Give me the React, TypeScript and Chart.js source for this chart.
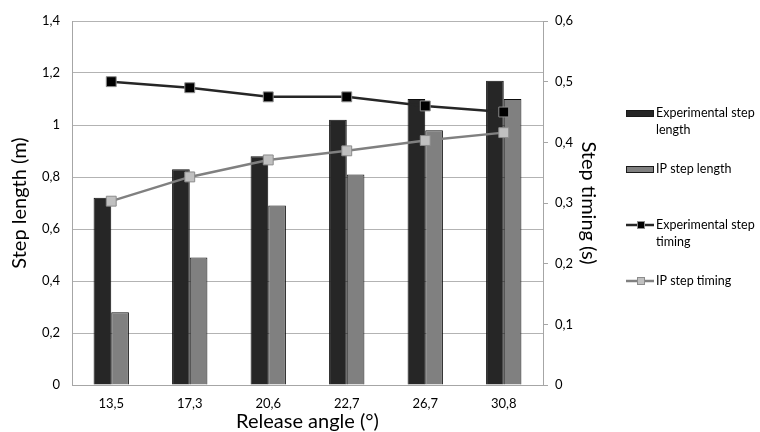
import React, { useEffect, useRef } from "react";
import { Chart, registerables } from "chart.js";

Chart.register(...registerables);

const categories = ["13,5", "17,3", "20,6", "22,7", "26,7", "30,8"];
const expLength = [0.72, 0.83, 0.88, 1.02, 1.1, 1.17];
const ipLength = [0.28, 0.49, 0.69, 0.81, 0.98, 1.1];
const expTiming = [0.5, 0.49, 0.475, 0.475, 0.46, 0.45];
const ipTiming = [0.303, 0.343, 0.371, 0.386, 0.403, 0.416];

const FONT = "Lato, 'Open Sans', sans-serif";

const fmt = (v: number) => String(Math.round(v * 10) / 10).replace(".", ",");

const sideLegend = {
  id: "sideLegend",
  afterDraw(chart: any, _args: any, opts: any) {
    const ctx = chart.ctx;
    const x0 = opts.x;
    const iconW = opts.iconW;
    const textX = x0 + iconW + 2;
    const maxW = opts.maxWidth;
    ctx.save();
    ctx.font = `12.5px ${FONT}`;
    ctx.textBaseline = "middle";
    ctx.fillStyle = "#000";
    chart.data.datasets.forEach((ds: any, i: number) => {
      const y = opts.y + i * opts.step;
      if (ds.type === "line") {
        ctx.strokeStyle = ds.borderColor;
        ctx.lineWidth = 2.5;
        ctx.beginPath();
        ctx.moveTo(x0, y);
        ctx.lineTo(x0 + iconW, y);
        ctx.stroke();
        const s = 7;
        const cx = x0 + iconW / 2 + 1;
        ctx.fillStyle = ds.pointBackgroundColor;
        ctx.fillRect(cx - s / 2, y - s / 2, s, s);
        ctx.strokeStyle = ds.pointBorderColor;
        ctx.lineWidth = 1;
        ctx.strokeRect(cx - s / 2, y - s / 2, s, s);
      } else {
        ctx.fillStyle = ds.backgroundColor;
        ctx.fillRect(x0, y - 3, iconW, 6);
        ctx.strokeStyle = "#1a1a1a";
        ctx.lineWidth = 1;
        ctx.strokeRect(x0 + 0.5, y - 2.5, iconW - 1, 6);
      }
      const words = String(ds.label).split(" ");
      const lines: string[] = [];
      let cur = "";
      words.forEach((w) => {
        const t = cur ? cur + " " + w : w;
        if (ctx.measureText(t).width > maxW && cur) {
          lines.push(cur);
          cur = w;
        } else cur = t;
      });
      if (cur) lines.push(cur);
      ctx.fillStyle = "#000";
      lines.forEach((ln, k) => {
        ctx.fillText(ln, textX, y + k * 17);
      });
    });
    ctx.restore();
  },
};

export default function App() {
  const ref = useRef<HTMLCanvasElement>(null);
  useEffect(() => {
    if (!ref.current) return;
    const chart = new Chart(ref.current, {
      type: "bar",
      data: {
        labels: categories,
        datasets: [
          {
            type: "bar",
            label: "Experimental step length",
            data: expLength,
            backgroundColor: "#262626",
            borderColor: "#0d0d0d",
            borderWidth: 1,
            yAxisID: "y",
            order: 2,
          },
          {
            type: "bar",
            label: "IP step length",
            data: ipLength,
            backgroundColor: "#808080",
            borderColor: "#0d0d0d",
            borderWidth: 1,
            yAxisID: "y",
            order: 2,
          },
          {
            type: "line",
            label: "Experimental step timing",
            data: expTiming,
            borderColor: "#262626",
            borderWidth: 2.5,
            pointStyle: "rect",
            pointRadius: 7,
            pointBackgroundColor: "#000000",
            pointBorderColor: "#8c8c8c",
            pointBorderWidth: 1,
            yAxisID: "y1",
            order: 1,
          } as any,
          {
            type: "line",
            label: "IP step timing",
            data: ipTiming,
            borderColor: "#808080",
            borderWidth: 2.5,
            pointStyle: "rect",
            pointRadius: 7,
            pointBackgroundColor: "#c0c0c0",
            pointBorderColor: "#8c8c8c",
            pointBorderWidth: 1,
            yAxisID: "y1",
            order: 0,
          } as any,
        ],
      },
      options: {
        animation: false,
        responsive: false,
        maintainAspectRatio: false,
        layout: { padding: { top: 21, right: 156, left: 0, bottom: 0 } },
        datasets: {
          bar: { categoryPercentage: 0.45, barPercentage: 1.0 },
        },
        plugins: {
          legend: { display: false },
          tooltip: { enabled: false },
          sideLegend: { x: 626, y: 113, step: 56, iconW: 28, maxWidth: 104 },
        } as any,
        scales: {
          x: {
            grid: { display: false, drawTicks: false },
            border: { display: true, color: "#a6a6a6", width: 1 },
            ticks: { color: "#000", font: { family: FONT, size: 13 }, padding: 11 },
            title: {
              display: true,
              text: "Release angle (°)",
              color: "#000",
              font: { family: FONT, size: 20, lineHeight: 1 },
              padding: { top: 0, bottom: 0 },
            },
            afterFit: (s: any) => {
              s.height = 47;
            },
          },
          y: {
            position: "left",
            min: 0,
            max: 1.4,
            ticks: {
              stepSize: 0.2,
              color: "#000",
              font: { family: FONT, size: 13 },
              padding: 12,
              callback: (v: any) => fmt(Number(v)),
            },
            grid: { color: "#b3b3b3", lineWidth: 1, drawTicks: false },
            border: { display: true, color: "#a6a6a6" },
            title: {
              display: true,
              text: "Step length (m)",
              color: "#000",
              font: { family: FONT, size: 20 },
              padding: { top: 8, bottom: 4 },
            },
            afterFit: (s: any) => {
              s.width = 72;
            },
          },
          y1: {
            position: "right",
            min: 0,
            max: 0.6,
            ticks: {
              stepSize: 0.1,
              color: "#000",
              font: { family: FONT, size: 13 },
              padding: 7,
              callback: (v: any) => fmt(Number(v)),
            },
            grid: { drawOnChartArea: false, color: "#a6a6a6", tickLength: 5 },
            border: { display: true, color: "#a6a6a6" },
            title: {
              display: true,
              text: "Step timing (s)",
              color: "#000",
              font: { family: FONT, size: 20 },
              padding: { top: 4, bottom: 4 },
            },
            afterFit: (s: any) => {
              s.width = 61;
            },
          },
        },
      },
      plugins: [sideLegend],
    });
    return () => chart.destroy();
  }, []);
  return (
    <div style={{ position: "fixed", left: 0, top: 0, width: 760, height: 432, background: "#fff" }}>
      <canvas ref={ref} width={760} height={432} style={{ display: "block" }} />
    </div>
  );
}
